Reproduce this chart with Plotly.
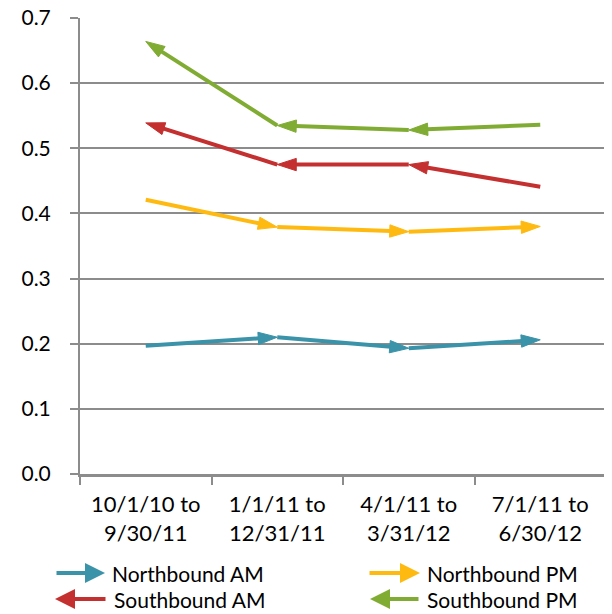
import plotly.graph_objects as go

categories = ["10/1/10 to<br>9/30/11", "1/1/11 to<br>12/31/11", "4/1/11 to<br>3/31/12", "7/1/11 to<br>6/30/12"]
northbound_am = [0.197, 0.210, 0.193, 0.206]
northbound_pm = [0.421, 0.379, 0.372, 0.380]
southbound_am = [0.539, 0.475, 0.475, 0.441]
southbound_pm = [0.664, 0.535, 0.528, 0.536]
y_ticks = [0.0, 0.1, 0.2, 0.3, 0.4, 0.5, 0.6, 0.7]

BLUE = "#3A93A9"
ORANGE = "#FFBA12"
RED = "#C3302F"
GREEN = "#80AC33"
FONT = "Lato"
AX = "#8C8C8C"

fig = go.Figure()

def add_series(name, values, color, reverse):
    xs = list(categories)
    ys = list(values)
    if reverse:
        xs = xs[::-1]
        ys = ys[::-1]
    sizes = [0] + [20] * (len(xs) - 1)
    fig.add_trace(go.Scatter(
        x=xs, y=ys, name=name, mode="lines+markers",
        line=dict(color=color, width=4),
        marker=dict(symbol="arrow", size=sizes, angleref="previous", color=color,
                    opacity=1, line=dict(width=1, color=color)),
        showlegend=False,
    ))

add_series("Northbound AM", northbound_am, BLUE, False)
add_series("Northbound PM", northbound_pm, ORANGE, False)
add_series("Southbound AM", southbound_am, RED, True)
add_series("Southbound PM", southbound_pm, GREEN, True)

# page offset of 8px (body margin) is compensated in the geometry below
W, H = 604, 606
L, R, T, B = 72, 6, 10, 140
pw = W - L - R
ph = H - T - B
legend_items = [
    ("Northbound AM", BLUE, 97, 565, -50),
    ("Northbound PM", ORANGE, 412, 565, -52),
    ("Southbound AM", RED, 47, 591, 52),
    ("Southbound PM", GREEN, 362, 591, 50),
]
for name, color, hx, hy, off in legend_items:
    xp = (hx - L) / pw
    yp = (H - B - hy) / ph
    fig.add_annotation(x=xp, y=yp, xref="paper", yref="paper", text="",
                       showarrow=True, ax=off, ay=0, arrowhead=2, arrowsize=1.0,
                       arrowwidth=4, arrowcolor=color)
    tx = max(hx, hx + off) + 5
    fig.add_annotation(x=(tx - L) / pw, y=yp, xref="paper", yref="paper", text=name,
                       showarrow=False, xanchor="left", yanchor="middle",
                       font=dict(family=FONT, size=21, color="#000000"))

fig.update_layout(
    width=W, height=H,
    margin=dict(l=L, r=R, t=T, b=B, autoexpand=False),
    plot_bgcolor="white", paper_bgcolor="white",
    font=dict(family=FONT, size=22, color="#000000"),
    showlegend=False,
)
fig.update_xaxes(
    type="category", range=[-0.5, 3.5], automargin=False,
    showline=True, linecolor=AX, linewidth=3,
    ticks="outside", tickson="boundaries", ticklen=8, tickcolor=AX, tickwidth=2,
    ticklabelstandoff=9,
    showgrid=False, tickfont=dict(family=FONT, size=22),
)
fig.update_yaxes(
    range=[0, 0.7], tickvals=y_ticks, ticktext=[f"{v:.1f}" for v in y_ticks],
    automargin=False,
    showline=True, linecolor=AX, linewidth=2,
    ticks="outside", ticklen=8, tickcolor=AX, tickwidth=2, ticklabelstandoff=15,
    ticklabeloverflow="allow",
    showgrid=True, gridcolor=AX, gridwidth=2, zeroline=False,
    tickfont=dict(family=FONT, size=21),
)

fig.write_html("out.html")
